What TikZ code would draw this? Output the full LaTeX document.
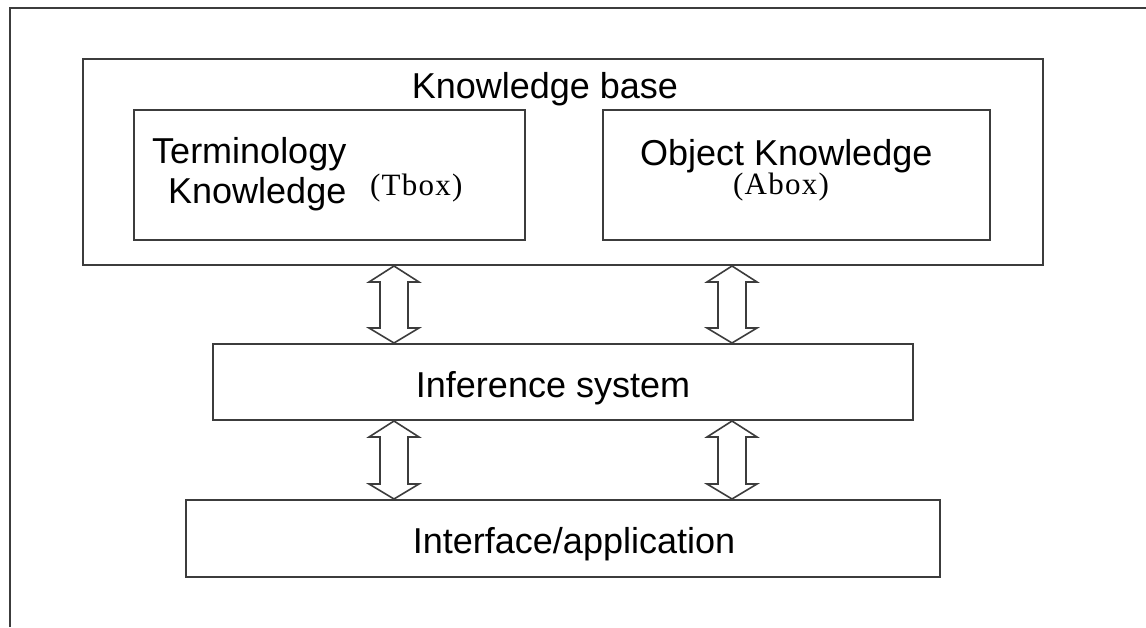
\documentclass[tikz,border=0pt]{standalone}
\usepackage{fontspec}
\setmainfont{Liberation Sans}
\newfontfamily\boxserif[LetterSpace=4]{Liberation Serif}
\usetikzlibrary{calc}
\definecolor{edge}{HTML}{3C3C3C}
\tikzset{
  box/.style={draw=edge, line width=2pt, fill=white, inner sep=0pt, rectangle},
  lbl/.style={inner sep=0pt, anchor=base, font=\fontsize{36}{40}\selectfont},
  lblw/.style={lbl, anchor=base west},
  sublbl/.style={inner sep=0pt, anchor=base west, font=\boxserif\fontsize{31}{34}\selectfont},
  hollow/.style={draw=edge, line width=1.6pt, fill=white, line join=miter},
}
% hollow double-headed arrow between two points on a common vertical
\newcommand\hollowarrow[2]{%
  \path[hollow] let \p1=(#1), \p2=(#2) in
    (\x1,\y1) -- (\x1+25pt,\y1-16pt) -- (\x1+14pt,\y1-16pt)
    -- (\x1+14pt,\y2+15pt) -- (\x1+25pt,\y2+15pt) -- (\x1,\y2)
    -- (\x1-25pt,\y2+15pt) -- (\x1-14pt,\y2+15pt)
    -- (\x1-14pt,\y1-16pt) -- (\x1-25pt,\y1-16pt) -- cycle;}
\begin{document}
\begin{tikzpicture}[x=1pt,y=-1pt]
\useasboundingbox (0,0) rectangle (1146,627);
% page frame, open to the right and bottom
\draw[draw=edge, line width=2pt] (10,627) -- (10,8) -- (1146,8);

% knowledge base with its two parts
\node[box, minimum width=960pt, minimum height=206pt] (kb) at (563,162) {};
\node[lbl] (kbt) at (545,98) {Knowledge base};
\node[box, minimum width=391pt, minimum height=130pt] (tb) at (329.5,175) {};
\node[lblw] (tb1) at (152,163) {Terminology};
\node[lblw] (tb2) at (168,203) {Knowledge};
\node[sublbl] (tb3) at (370,195) {(Tbox)};
\node[box, minimum width=387pt, minimum height=130pt] (ob) at (796.5,175) {};
\node[lblw] (ob1) at (640,165) {Object Knowledge};
\node[sublbl] (ob2) at (733,194) {(Abox)};

% inference layer and interface layer
\node[box, minimum width=700pt, minimum height=76pt] (inf) at (563,382) {};
\node[lbl] (inft) at (553,397) {Inference system};
\node[box, minimum width=754pt, minimum height=77pt] (app) at (563,538.5) {};
\node[lbl] (appt) at (574,553) {Interface/application};

% connectors
\coordinate (a1) at (394,0 |- kb.south);
\coordinate (b1) at (394,0 |- inf.north);
\coordinate (a2) at (732,0 |- kb.south);
\coordinate (b2) at (732,0 |- inf.north);
\coordinate (c1) at (394,0 |- inf.south);
\coordinate (d1) at (394,0 |- app.north);
\coordinate (c2) at (732,0 |- inf.south);
\coordinate (d2) at (732,0 |- app.north);
\hollowarrow{a1}{b1}
\hollowarrow{a2}{b2}
\hollowarrow{c1}{d1}
\hollowarrow{c2}{d2}
\end{tikzpicture}
\end{document}
